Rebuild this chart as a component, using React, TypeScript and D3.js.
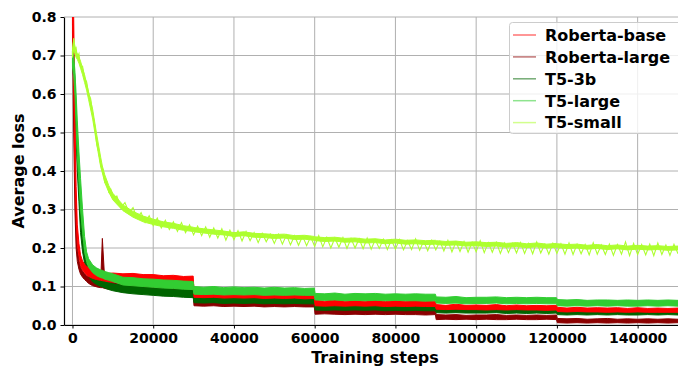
import React, { useEffect, useRef } from "react";
import * as d3 from "d3";

const steps = [
  0, 300, 600, 900, 1200, 1600, 2000, 2500, 3000, 3500,
  4000, 5000, 6000, 7000, 7400, 8000, 9000, 10000,
  12500, 15000, 17500, 20000, 22500, 25000, 27500, 29900,
  30100, 32500, 35000, 37500, 40000, 42500, 45000, 47500, 50000, 52500, 55000, 57500, 59900,
  60100, 62500, 65000, 67500, 70000, 72500, 75000, 77500, 80000, 82500, 85000, 87500, 89900,
  90100, 92500, 95000, 97500, 100000, 102500, 105000, 107500, 110000, 112500, 115000, 117500, 119900,
  120100, 122500, 125000, 127500, 130000, 132500, 135000, 137500, 140000, 142500, 145000, 147500, 150000,
];

// upper / lower edge of each noisy loss curve
const robertaBaseHi = [
  0.86, 0.8, 0.55, 0.36, 0.26, 0.212, 0.182, 0.166, 0.158, 0.152,
  0.149, 0.145, 0.141, 0.139, 0.138, 0.137, 0.134, 0.135,
  0.133, 0.134, 0.131, 0.131, 0.128, 0.129, 0.126, 0.127,
  0.092, 0.09, 0.093, 0.089, 0.091, 0.088, 0.09, 0.087, 0.089, 0.086, 0.088, 0.086, 0.087,
  0.064, 0.062, 0.065, 0.062, 0.063, 0.062, 0.064, 0.061, 0.063, 0.062, 0.063, 0.061, 0.062,
  0.053, 0.051, 0.054, 0.051, 0.052, 0.051, 0.053, 0.05, 0.052, 0.05, 0.051, 0.05, 0.051,
  0.046, 0.044, 0.046, 0.044, 0.045, 0.044, 0.045, 0.043, 0.045, 0.043, 0.044, 0.043, 0.044,
];
const robertaBaseLo = [
  0.78, 0.62, 0.42, 0.28, 0.21, 0.18, 0.155, 0.143, 0.136, 0.13,
  0.126, 0.121, 0.118, 0.116, 0.115, 0.114, 0.112, 0.112,
  0.111, 0.11, 0.108, 0.108, 0.106, 0.105, 0.104, 0.104,
  0.072, 0.071, 0.072, 0.07, 0.071, 0.07, 0.071, 0.069, 0.07, 0.069, 0.07, 0.068, 0.069,
  0.05, 0.049, 0.05, 0.049, 0.05, 0.049, 0.05, 0.048, 0.049, 0.048, 0.049, 0.048, 0.048,
  0.041, 0.04, 0.041, 0.04, 0.04, 0.039, 0.04, 0.039, 0.04, 0.039, 0.039, 0.038, 0.039,
  0.035, 0.034, 0.035, 0.034, 0.034, 0.033, 0.034, 0.033, 0.034, 0.033, 0.033, 0.033, 0.033,
];
const robertaLargeHi = [
  0.86, 0.7, 0.42, 0.28, 0.2, 0.168, 0.15, 0.14, 0.133, 0.128,
  0.125, 0.12, 0.118, 0.116, 0.225, 0.114, 0.112, 0.11,
  0.107, 0.105, 0.104, 0.102, 0.101, 0.1, 0.099, 0.098,
  0.068, 0.066, 0.068, 0.065, 0.067, 0.065, 0.066, 0.064, 0.066, 0.064, 0.065, 0.063, 0.064,
  0.043, 0.042, 0.043, 0.041, 0.042, 0.041, 0.042, 0.04, 0.042, 0.041, 0.041, 0.04, 0.041,
  0.027, 0.026, 0.027, 0.025, 0.026, 0.026, 0.027, 0.025, 0.026, 0.025, 0.026, 0.025, 0.026,
  0.017, 0.016, 0.017, 0.015, 0.016, 0.017, 0.015, 0.016, 0.015, 0.016, 0.015, 0.016, 0.015,
];
const robertaLargeLo = [
  0.76, 0.5, 0.3, 0.2, 0.165, 0.145, 0.132, 0.124, 0.118, 0.113,
  0.108, 0.102, 0.099, 0.097, 0.097, 0.095, 0.093, 0.092,
  0.09, 0.088, 0.087, 0.085, 0.084, 0.083, 0.082, 0.081,
  0.05, 0.049, 0.05, 0.048, 0.049, 0.048, 0.049, 0.047, 0.048, 0.047, 0.048, 0.047, 0.047,
  0.028, 0.029, 0.028, 0.027, 0.028, 0.027, 0.028, 0.027, 0.028, 0.027, 0.027, 0.026, 0.027,
  0.014, 0.015, 0.014, 0.015, 0.014, 0.015, 0.014, 0.014, 0.015, 0.014, 0.014, 0.015, 0.014,
  0.006, 0.005, 0.006, 0.005, 0.006, 0.005, 0.006, 0.005, 0.006, 0.005, 0.006, 0.005, 0.006,
];
const t53bHi = [
  0.71, 0.69, 0.64, 0.56, 0.48, 0.4, 0.3, 0.23, 0.185, 0.16,
  0.146, 0.132, 0.124, 0.118, 0.117, 0.114, 0.11, 0.107,
  0.103, 0.1, 0.099, 0.096, 0.095, 0.093, 0.092, 0.09,
  0.08, 0.078, 0.079, 0.077, 0.078, 0.076, 0.077, 0.075, 0.077, 0.075, 0.076, 0.074, 0.075,
  0.054, 0.053, 0.054, 0.052, 0.053, 0.052, 0.053, 0.051, 0.053, 0.052, 0.052, 0.051, 0.052,
  0.046, 0.045, 0.046, 0.044, 0.045, 0.045, 0.046, 0.044, 0.045, 0.044, 0.045, 0.044, 0.045,
  0.039, 0.038, 0.039, 0.037, 0.038, 0.038, 0.037, 0.038, 0.037, 0.038, 0.037, 0.038, 0.037,
];
const t53bLo = [
  0.68, 0.64, 0.58, 0.48, 0.4, 0.32, 0.24, 0.19, 0.16, 0.14,
  0.126, 0.112, 0.105, 0.1, 0.099, 0.096, 0.092, 0.089,
  0.084, 0.081, 0.079, 0.077, 0.075, 0.074, 0.072, 0.071,
  0.058, 0.057, 0.058, 0.056, 0.057, 0.056, 0.057, 0.055, 0.056, 0.055, 0.056, 0.055, 0.055,
  0.039, 0.038, 0.039, 0.038, 0.039, 0.038, 0.039, 0.037, 0.038, 0.037, 0.038, 0.037, 0.037,
  0.032, 0.031, 0.032, 0.031, 0.031, 0.031, 0.032, 0.03, 0.031, 0.03, 0.031, 0.03, 0.031,
  0.027, 0.026, 0.027, 0.026, 0.027, 0.026, 0.027, 0.026, 0.026, 0.027, 0.026, 0.027, 0.026,
];
const t5LargeHi = [
  0.71, 0.7, 0.66, 0.6, 0.53, 0.45, 0.38, 0.3, 0.23, 0.19,
  0.172, 0.156, 0.148, 0.143, 0.142, 0.139, 0.136, 0.133,
  0.124, 0.123, 0.12, 0.119, 0.117, 0.116, 0.114, 0.113,
  0.1, 0.098, 0.1, 0.097, 0.099, 0.097, 0.098, 0.096, 0.098, 0.096, 0.097, 0.095, 0.096,
  0.082, 0.081, 0.083, 0.08, 0.082, 0.081, 0.082, 0.08, 0.081, 0.08, 0.081, 0.08, 0.08,
  0.073, 0.072, 0.074, 0.071, 0.072, 0.072, 0.073, 0.071, 0.072, 0.071, 0.072, 0.071, 0.071,
  0.066, 0.065, 0.066, 0.064, 0.065, 0.065, 0.064, 0.065, 0.064, 0.065, 0.064, 0.065, 0.064,
];
const t5LargeLo = [
  0.67, 0.65, 0.6, 0.52, 0.44, 0.37, 0.3, 0.24, 0.19, 0.165,
  0.15, 0.136, 0.128, 0.123, 0.122, 0.119, 0.116, 0.113,
  0.104, 0.102, 0.1, 0.098, 0.096, 0.095, 0.093, 0.092,
  0.08, 0.079, 0.08, 0.078, 0.079, 0.078, 0.079, 0.077, 0.078, 0.077, 0.078, 0.077, 0.077,
  0.065, 0.064, 0.065, 0.063, 0.064, 0.063, 0.064, 0.063, 0.064, 0.063, 0.063, 0.062, 0.063,
  0.057, 0.056, 0.057, 0.055, 0.056, 0.056, 0.057, 0.055, 0.056, 0.055, 0.056, 0.055, 0.055,
  0.05, 0.049, 0.05, 0.049, 0.05, 0.049, 0.05, 0.049, 0.049, 0.05, 0.049, 0.05, 0.049,
];
// dense core of the T5-small band
const t5SmallHi = [
  0.715, 0.74, 0.725, 0.71, 0.705, 0.695, 0.685, 0.667, 0.65, 0.627,
  0.605, 0.56, 0.495, 0.435, 0.413, 0.39, 0.362, 0.342,
  0.312, 0.295, 0.283, 0.275, 0.268, 0.264, 0.258, 0.254,
  0.253, 0.25, 0.247, 0.244, 0.24, 0.242, 0.238, 0.237, 0.235, 0.236, 0.232, 0.233, 0.23,
  0.229, 0.227, 0.228, 0.225, 0.226, 0.223, 0.224, 0.221, 0.223, 0.22, 0.221, 0.219, 0.22,
  0.219, 0.217, 0.218, 0.215, 0.216, 0.214, 0.215, 0.212, 0.214, 0.211, 0.213, 0.21, 0.212,
  0.211, 0.209, 0.21, 0.207, 0.209, 0.206, 0.208, 0.205, 0.207, 0.205, 0.206, 0.204, 0.205,
];
const t5SmallLo = [
  0.695, 0.715, 0.705, 0.695, 0.69, 0.68, 0.667, 0.65, 0.63, 0.61,
  0.585, 0.535, 0.47, 0.41, 0.395, 0.37, 0.345, 0.325,
  0.297, 0.28, 0.268, 0.261, 0.255, 0.251, 0.246, 0.243,
  0.242, 0.239, 0.236, 0.234, 0.23, 0.232, 0.228, 0.227, 0.225, 0.226, 0.222, 0.223, 0.22,
  0.219, 0.217, 0.218, 0.215, 0.216, 0.213, 0.214, 0.211, 0.213, 0.21, 0.211, 0.209, 0.21,
  0.209, 0.207, 0.208, 0.205, 0.206, 0.204, 0.205, 0.202, 0.204, 0.201, 0.203, 0.2, 0.202,
  0.201, 0.199, 0.2, 0.197, 0.199, 0.196, 0.198, 0.195, 0.197, 0.195, 0.196, 0.194, 0.195,
];

// T5-small spikes: the raw trace, read every 1000 steps
const t5SmallSteps = [
  0, 300, 600, 900, 1200, 1600, 2000, 2500, 3000, 3500, 4000, 4500, 5000, 5500, 6000, 6500,
  7000, 7500, 8000, 8500, 9000, 9500, 10000,
  11000, 12000, 13000, 14000, 15000, 16000, 17000, 18000, 19000, 20000,
  21000, 22000, 23000, 24000, 25000, 26000, 27000, 28000, 29000, 30000,
  31000, 32000, 33000, 34000, 35000, 36000, 37000, 38000, 39000, 40000,
  41000, 42000, 43000, 44000, 45000, 46000, 47000, 48000, 49000, 50000,
  51000, 52000, 53000, 54000, 55000, 56000, 57000, 58000, 59000, 60000,
  61000, 62000, 63000, 64000, 65000, 66000, 67000, 68000, 69000, 70000,
  71000, 72000, 73000, 74000, 75000, 76000, 77000, 78000, 79000, 80000,
  81000, 82000, 83000, 84000, 85000, 86000, 87000, 88000, 89000, 90000,
  91000, 92000, 93000, 94000, 95000, 96000, 97000, 98000, 99000, 100000,
  101000, 102000, 103000, 104000, 105000, 106000, 107000, 108000, 109000, 110000,
  111000, 112000, 113000, 114000, 115000, 116000, 117000, 118000, 119000, 120000,
  121000, 122000, 123000, 124000, 125000, 126000, 127000, 128000, 129000, 130000,
  131000, 132000, 133000, 134000, 135000, 136000, 137000, 138000, 139000, 140000,
  141000, 142000, 143000, 144000, 145000, 146000, 147000, 148000, 149000, 150000,
];
const t5SmallLoss = [
  0.705, 0.745, 0.715, 0.72, 0.695, 0.705, 0.67, 0.672, 0.64, 0.632, 0.6, 0.588, 0.55, 0.52, 0.47, 0.45,
  0.415, 0.405, 0.37, 0.372, 0.345, 0.352, 0.33,
  0.335, 0.305, 0.318, 0.292, 0.305, 0.278, 0.292, 0.266, 0.284, 0.258,
  0.278, 0.252, 0.272, 0.248, 0.268, 0.243, 0.266, 0.24, 0.26, 0.234,
  0.257, 0.232, 0.255, 0.228, 0.252, 0.226, 0.25, 0.22, 0.246, 0.222,
  0.245, 0.218, 0.243, 0.219, 0.24, 0.214, 0.238, 0.216, 0.236, 0.212,
  0.236, 0.21, 0.234, 0.208, 0.232, 0.207, 0.231, 0.206, 0.229, 0.204,
  0.232, 0.203, 0.228, 0.2, 0.226, 0.202, 0.227, 0.199, 0.225, 0.2,
  0.224, 0.198, 0.226, 0.197, 0.222, 0.199, 0.223, 0.196, 0.221, 0.197,
  0.222, 0.195, 0.219, 0.196, 0.224, 0.194, 0.218, 0.193, 0.22, 0.195,
  0.218, 0.192, 0.22, 0.19, 0.216, 0.191, 0.217, 0.189, 0.215, 0.19,
  0.219, 0.188, 0.214, 0.189, 0.215, 0.186, 0.213, 0.188, 0.212, 0.187,
  0.214, 0.186, 0.212, 0.185, 0.216, 0.187, 0.21, 0.184, 0.212, 0.186,
  0.211, 0.184, 0.213, 0.183, 0.21, 0.185, 0.209, 0.182, 0.214, 0.184,
  0.208, 0.183, 0.21, 0.181, 0.209, 0.184, 0.216, 0.18, 0.212, 0.183,
  0.209, 0.182, 0.21, 0.18, 0.213, 0.183, 0.208, 0.181, 0.21, 0.185,
];

const seriesNames = ["Roberta-base", "Roberta-large", "T5-3b", "T5-large", "T5-small"];
const seriesColors = ["#ff0000", "#8b0000", "#006400", "#32cd32", "#adff2f"];
const seriesHi = [robertaBaseHi, robertaLargeHi, t53bHi, t5LargeHi, t5SmallHi];
const seriesLo = [robertaBaseLo, robertaLargeLo, t53bLo, t5LargeLo, t5SmallLo];
const drawOrder = [1, 2, 0, 3];

const xTicks = [0, 20000, 40000, 60000, 80000, 100000, 120000, 140000];
const yTicks = [0, 0.1, 0.2, 0.3, 0.4, 0.5, 0.6, 0.7, 0.8];

const W = 678;
const H = 366;
const left = 64;
const right = 678;
const top = 17;
const bottom = 325;
const FONT = "'DejaVu Sans', sans-serif";

const App = () => {
  const xAxisRef = useRef<SVGGElement>(null);
  const yAxisRef = useRef<SVGGElement>(null);

  const x = d3.scaleLinear().domain([-2100, 150000]).range([left, right]);
  const y = d3.scaleLinear().domain([0, 0.8]).range([bottom, top]);

  useEffect(() => {
    document.body.style.margin = "0";

    const xAxis = d3.axisBottom(x).tickValues(xTicks).tickFormat(d3.format("d")).tickSize(3.5).tickSizeOuter(0).tickPadding(5);
    const yAxis = d3.axisLeft(y).tickValues(yTicks).tickFormat(d3.format(".1f")).tickSize(3.5).tickSizeOuter(0).tickPadding(4);

    d3.select(xAxisRef.current).call(xAxis as any);
    d3.select(yAxisRef.current).call(yAxis as any);

    [xAxisRef.current, yAxisRef.current].forEach((node) => {
      const g = d3.select(node);
      g.selectAll("text").attr("font-family", FONT).attr("font-weight", "bold").attr("font-size", 14).attr("fill", "#000");
      g.selectAll("line").attr("stroke", "#000").attr("stroke-width", 1);
      g.select(".domain").attr("stroke", "#000").attr("stroke-width", 1.2);
    });
  }, []);

  const band = (i: number) =>
    d3
      .area<number>()
      .x((s) => x(s))
      .y0((_, k) => y(seriesLo[i][k]))
      .y1((_, k) => y(seriesHi[i][k]))(steps) || "";

  const smallLine =
    d3
      .line<number>()
      .x((s) => x(s))
      .y((_, k) => y(t5SmallLoss[k]))(t5SmallSteps) || "";

  return (
    <svg width={W} height={H} style={{ display: "block" }}>
      <defs>
        <clipPath id="plot-clip">
          <rect x={left} y={top} width={right - left} height={bottom - top} />
        </clipPath>
      </defs>

      {/* grid */}
      <g stroke="#b0b0b0" strokeWidth={1}>
        {xTicks.map((t) => (
          <line key={"gx" + t} x1={x(t)} x2={x(t)} y1={top} y2={bottom} />
        ))}
        {yTicks.map((t) => (
          <line key={"gy" + t} x1={left} x2={right} y1={y(t)} y2={y(t)} />
        ))}
      </g>

      {/* loss curves */}
      <g clipPath="url(#plot-clip)">
        {drawOrder.map((i) => (
          <path key={seriesNames[i]} d={band(i)} fill={seriesColors[i]} stroke={seriesColors[i]} strokeWidth={1} />
        ))}
        <path d={band(4)} fill={seriesColors[4]} stroke={seriesColors[4]} strokeWidth={1} />
        <path d={smallLine} fill="none" stroke={seriesColors[4]} strokeWidth={1.1} strokeLinejoin="miter" />
      </g>

      <g ref={xAxisRef} transform={`translate(0,${bottom})`} />
      <g ref={yAxisRef} transform={`translate(${left},0)`} />

      <text x={(left + right) / 2 + 4} y={363} textAnchor="middle" fontFamily={FONT} fontWeight="bold" fontSize={16}>
        Training steps
      </text>
      <text
        transform={`translate(24,${(top + bottom) / 2}) rotate(-90)`}
        textAnchor="middle"
        fontFamily={FONT}
        fontWeight="bold"
        fontSize={16}
      >
        Average loss
      </text>

      {/* legend */}
      <g>
        <rect x={509.5} y={22.5} width={175} height={111} rx={3} fill="#fff" fillOpacity={0.8} stroke="#cccccc" />
        {seriesNames.map((name, i) => (
          <g key={"lg" + name} transform={`translate(0,${35 + i * 21.9})`}>
            <line x1={513} x2={536} y1={0} y2={0} stroke={seriesColors[i]} strokeOpacity={0.55} strokeWidth={1.5} />
            <text x={545} y={5.8} fontFamily={FONT} fontWeight="bold" fontSize={16}>
              {name}
            </text>
          </g>
        ))}
      </g>
    </svg>
  );
};

export default App;
